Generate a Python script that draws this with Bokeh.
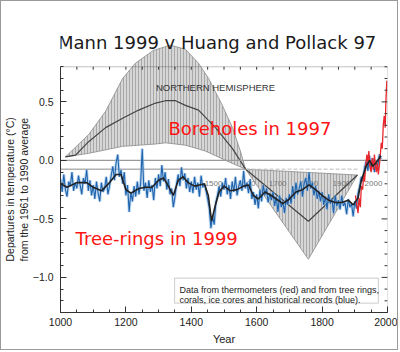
import numpy as np
from bokeh.plotting import figure
from bokeh.models import (Range1d, FixedTicker, BoxAnnotation, Label, Title,
                          CustomJSTickFormatter)
from bokeh.embed import file_html
from bokeh.resources import INLINE
from bokeh.core.properties import value

TITLE = "Mann 1999 v Huang and Pollack 97"
X_LABEL = "Year"
Y_LABEL_1 = "Departures in temperature (°C)"
Y_LABEL_2 = "from the 1961 to 1990 average"
NH_LABEL = "NORTHERN HEMISPHERE"
BH_NOTE = "Boreholes in 1997"
TR_NOTE = "Tree-rings in 1999"
BOX_LINE_1 = "Data from thermometers (red) and from tree rings,"
BOX_LINE_2 = "corals, ice cores and historical records (blue)."

x_major_ticks = [1000, 1200, 1400, 1600, 1800, 2000]
y_major_ticks = [-1.0, -0.5, 0.0, 0.5]

# Mann et al. 1999 reconstruction (blue), sampled every 5 years
mann_years = list(range(1000, 1981, 5))
mann_vals = [
    -0.16, -0.27, -0.12, -0.25, -0.31, -0.18, -0.22, -0.10, -0.26, -0.19,
    -0.24, -0.13, -0.21, -0.29, -0.15, -0.20, -0.08, -0.26, -0.17, -0.30,
    -0.21, -0.33, -0.18, -0.28, -0.35, -0.19, -0.27, -0.24, -0.14, -0.29,
    -0.22, -0.13, -0.05, -0.17, -0.02, 0.05, -0.14, -0.08, -0.20, -0.10,
    -0.30, -0.21, -0.44, -0.27, -0.35, -0.22, -0.31, -0.18, -0.29, -0.20,
    0.10, -0.26, -0.19, -0.32, -0.17, -0.27, -0.21, -0.34, -0.15, -0.24,
    -0.12, -0.22, -0.04, -0.18, -0.10, -0.25, -0.16, -0.29, -0.24, -0.40,
    -0.31, -0.20, -0.12, -0.22, -0.06, -0.17, -0.11, -0.24, -0.15, -0.27,
    -0.18, -0.28, -0.14, -0.25, -0.19, -0.31, -0.13, -0.23, -0.20, -0.26,
    -0.33, -0.41, -0.58, -0.47, -0.55, -0.36, -0.30, -0.22, -0.31, -0.19,
    -0.25, -0.15, -0.29, -0.21, -0.33, -0.18, -0.27, -0.14, -0.30, -0.22,
    -0.17, -0.26, -0.09, -0.24, -0.19, -0.28, -0.16, -0.33, -0.27, -0.38,
    -0.29, -0.41, -0.25, -0.35, -0.21, -0.30, -0.24, -0.36, -0.28, -0.34,
    -0.27, -0.39, -0.31, -0.44, -0.30, -0.40, -0.35, -0.45, -0.32, -0.38,
    -0.29, -0.37, -0.22, -0.33, -0.19, -0.29, -0.24, -0.18, -0.31, -0.20,
    -0.15, -0.26, -0.10, -0.24, -0.19, -0.30, -0.22, -0.33, -0.26, -0.35,
    -0.27, -0.38, -0.31, -0.42, -0.29, -0.37, -0.33, -0.45, -0.30, -0.39,
    -0.34, -0.42, -0.30, -0.39, -0.36, -0.46, -0.33, -0.40, -0.37, -0.48,
    -0.35, -0.41, -0.28, -0.22, -0.14, -0.18, -0.06, -0.01, -0.09, 0.04,
    -0.08, 0.02, -0.10, -0.01, -0.06, 0.05, 0.01,
]

# smoothed reconstruction (black)
smooth_years = [1000, 1020, 1050, 1080, 1100, 1125, 1150, 1170, 1185, 1200,
                1215, 1240, 1260, 1280, 1300, 1315, 1330, 1345, 1360, 1375,
                1390, 1410, 1425, 1440, 1452, 1462, 1472, 1485, 1500, 1520,
                1540, 1560, 1575, 1590, 1605, 1625, 1645, 1660, 1680, 1700,
                1720, 1740, 1760, 1780, 1800, 1820, 1840, 1860, 1880, 1895,
                1910, 1920, 1935, 1945, 1955, 1965, 1980]
smooth_vals = [-0.20, -0.23, -0.19, -0.19, -0.23, -0.26, -0.19, -0.12, -0.12, -0.25,
               -0.28, -0.24, -0.23, -0.23, -0.17, -0.15, -0.22, -0.30, -0.17, -0.14,
               -0.19, -0.22, -0.21, -0.20, -0.30, -0.52, -0.40, -0.27, -0.22, -0.26,
               -0.25, -0.22, -0.21, -0.30, -0.33, -0.27, -0.30, -0.33, -0.37, -0.33,
               -0.27, -0.25, -0.21, -0.25, -0.30, -0.34, -0.36, -0.36, -0.34, -0.38,
               -0.32, -0.17, -0.05, 0.00, -0.05, -0.02, 0.04]

# thermometer record (red)
inst_years = [1902, 1906, 1910, 1913, 1917, 1920, 1924, 1927, 1930, 1933, 1937,
              1940, 1943, 1946, 1950, 1953, 1957, 1960, 1963, 1966, 1969, 1972,
              1975, 1978, 1981, 1984, 1987, 1990, 1993, 1995, 1998]
inst_vals = [-0.30, -0.38, -0.45, -0.32, -0.40, -0.22, -0.25, -0.12, -0.18, -0.05, 0.05,
             -0.02, 0.08, -0.05, -0.10, 0.02, -0.08, 0.05, -0.04, -0.10, -0.02, -0.12,
             -0.05, 0.05, 0.15, 0.10, 0.30, 0.38, 0.28, 0.50, 0.68]

# Borehole overlay (Huang & Pollack 1997), drawn in the plot's year axis
bh1_upper_years = [1015, 1086, 1138, 1190, 1229, 1284, 1336, 1382, 1422, 1453, 1495, 1526, 1550, 1566]
bh1_upper_vals = [0.03, 0.22, 0.42, 0.70, 0.83, 0.94, 0.985, 0.95, 0.83, 0.70, 0.47, 0.28, 0.08, -0.075]
bh1_mean_years = [1015, 1046, 1086, 1138, 1190, 1239, 1291, 1321, 1352, 1382, 1422, 1474, 1526, 1566]
bh1_mean_vals = [0.03, 0.045, 0.16, 0.28, 0.36, 0.43, 0.49, 0.51, 0.51, 0.47, 0.43, 0.28, 0.10, -0.075]
bh1_lower_years = [1015, 1086, 1190, 1291, 1321, 1382, 1443, 1505, 1566]
bh1_lower_vals = [0.03, 0.06, 0.12, 0.14, 0.15, 0.13, 0.08, 0.0, -0.075]

bh2_upper_years = [1566, 1908]
bh2_upper_vals = [-0.075, -0.125]
bh2_mean_years = [1566, 1758, 1908]
bh2_mean_vals = [-0.075, -0.52, -0.125]
bh2_lower_years = [1566, 1758, 1908]
bh2_lower_vals = [-0.075, -0.845, -0.125]

bh_zero = -0.075
bh_axis_years = [1468, 1569, 1664, 1761, 1859, 1957]
bh_axis_labels = ["1500", "1600", "1700", "1800", "1900", "2000"]

SANS = "Liberation Sans"
VERD = "DejaVu Sans"
AX = "#333333"

p = figure(width=398, height=350, x_range=Range1d(1000, 2000), y_range=Range1d(-1.3, 1.358),
           output_backend="svg", toolbar_location=None, title=None,
           min_border_left=59, min_border_right=12, min_border_top=0, min_border_bottom=39)
p.styles = {"border": "1px solid #9a9a9a"}
p.xgrid.visible = False
p.ygrid.visible = False
p.outline_line_color = None
p.background_fill_color = "white"
p.border_fill_color = "white"

# borehole envelopes
env_style = dict(fill_color="#d6d6d6", hatch_pattern="vertical_line", hatch_color="#9c9c9c",
                 hatch_scale=3, hatch_weight=0.8, line_color="#8a8a8a", line_width=0.8)
p.patch(bh1_upper_years + bh1_lower_years[::-1], bh1_upper_vals + bh1_lower_vals[::-1], **env_style)
p.patch(bh2_upper_years + bh2_lower_years[::-1], bh2_upper_vals + bh2_lower_vals[::-1], **env_style)
p.line(bh1_mean_years, bh1_mean_vals, line_color="#444444", line_width=1.2)
p.line(bh2_mean_years, bh2_mean_vals, line_color="#444444", line_width=1.2)

# zero lines
p.line([1000, 2000], [0, 0], line_color="#9a9a9a", line_width=1.4)
p.line([1000, bh1_upper_years[-1]], [bh_zero, bh_zero], line_color="#8a8a8a", line_width=1)
p.line([bh2_upper_years[0], bh2_upper_years[-1]], [bh_zero, bh_zero], line_color="#bbbbbb",
       line_width=1, line_dash="4 2")
p.text(x=bh_axis_years, y=[-0.195] * len(bh_axis_years), text=bh_axis_labels,
       text_font=value(SANS), text_font_size="8px", text_color="#777777",
       text_align="center", text_baseline="middle")

# data series
p.line(mann_years, mann_vals, line_color="#8fbce6", line_width=3, line_alpha=0.6)
p.line(mann_years, mann_vals, line_color="#1f63ad", line_width=1.1)
p.line(inst_years, inst_vals, line_color="#e8262b", line_width=1.3)
p.line(smooth_years, smooth_vals, line_color="#222222", line_width=1.6)

# axes
p.xaxis.ticker = FixedTicker(ticks=x_major_ticks, minor_ticks=list(range(1000, 2001, 50)))
p.xaxis.bounds = (1000, 2000)
p.xaxis.axis_label = X_LABEL
p.xaxis.axis_label_text_font = SANS
p.xaxis.axis_label_text_font_style = "normal"
p.xaxis.axis_label_text_font_size = "11px"
p.xaxis.axis_label_text_color = "#222222"
p.xaxis.axis_label_standoff = 4
p.xaxis.major_label_standoff = 5

minor_y = [round(v, 1) for v in np.arange(-1.3, 0.81, 0.1)]
p.yaxis.ticker = FixedTicker(ticks=y_major_ticks, minor_ticks=minor_y)
p.yaxis.bounds = (-1.3, 0.8)
p.yaxis.formatter = CustomJSTickFormatter(code="return tick.toFixed(1).replace('-', '\u2212');")
p.yaxis.major_label_standoff = 7

for ax in (p.xaxis[0], p.yaxis[0]):
    ax.major_tick_in = 6
    ax.major_tick_out = 0
    ax.minor_tick_in = 3
    ax.minor_tick_out = 0
    ax.axis_line_color = AX
    ax.major_tick_line_color = AX
    ax.minor_tick_line_color = AX
    ax.major_label_text_font = SANS
    ax.major_label_text_font_size = "10.5px"
    ax.major_label_text_color = "#222222"

# y-axis title, two lines, starting near the lower part of the boxed panel
p.add_layout(Title(text=Y_LABEL_2, align="left", offset=51, standoff=0, text_font=SANS,
                   text_font_size="10.5px", text_font_style="normal", text_color="#222222"), "left")
p.add_layout(Title(text=Y_LABEL_1, align="left", offset=51, standoff=0, text_font=SANS,
                   text_font_size="10.5px", text_font_style="normal", text_color="#222222"), "left")

# frame box with ticks on top and right
p.add_layout(BoxAnnotation(left=1000, right=2000, bottom=-1.3, top=0.8,
                           fill_color=None, line_color=AX, line_width=1))
top_minor = [t for t in range(1050, 2000, 50)]
p.segment(x0=top_minor, y0=[0.8] * len(top_minor), x1=top_minor,
          y1=[0.775] * len(top_minor), line_color=AX, line_width=1)
right_major = [t for t in y_major_ticks]
right_minor = [t for t in minor_y if t not in y_major_ticks]
p.segment(x0=[2000] * len(right_minor), y0=right_minor, x1=[1991] * len(right_minor),
          y1=right_minor, line_color=AX, line_width=1)
p.segment(x0=[2000] * len(right_major), y0=right_major, x1=[1982] * len(right_major),
          y1=right_major, line_color=AX, line_width=1)

# texts
p.add_layout(Label(x=1479, y=1.011, text=TITLE, text_align="center", text_baseline="alphabetic",
                   text_font=VERD, text_font_size="18px", text_color="#1a1a1a"))
p.add_layout(Label(x=1474, y=0.62, text=NH_LABEL, text_align="center", text_baseline="middle",
                   text_font=SANS, text_font_size="9.5px", text_color="#333333"))
p.add_layout(Label(x=1330, y=0.276, text=BH_NOTE, text_align="left", text_baseline="alphabetic",
                   text_font=VERD, text_font_size="18px", text_color="#ff1414"))
p.add_layout(Label(x=1046, y=-0.664, text=TR_NOTE, text_align="left", text_baseline="alphabetic",
                   text_font=VERD, text_font_size="18px", text_color="#ff1414"))

p.add_layout(BoxAnnotation(left=1349, right=1972, top=-1.006, bottom=-1.22,
                           fill_color="white", fill_alpha=1, line_color="#555555", line_width=1))
p.add_layout(Label(x=1364, y=-1.108, text=BOX_LINE_1, text_align="left", text_baseline="alphabetic",
                   text_font=SANS, text_font_size="9px", text_color="#222222"))
p.add_layout(Label(x=1364, y=-1.193, text=BOX_LINE_2, text_align="left", text_baseline="alphabetic",
                   text_font=SANS, text_font_size="9px", text_color="#222222"))

open("out.html", "w").write(file_html(p, INLINE))
